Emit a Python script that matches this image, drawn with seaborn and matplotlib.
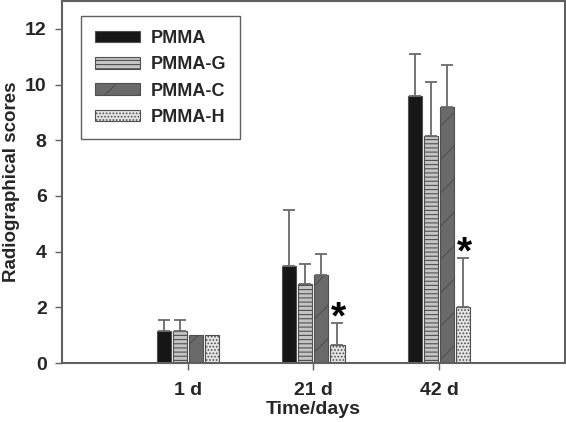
import numpy as np
import pandas as pd
import matplotlib
matplotlib.use('Agg')
import matplotlib.pyplot as plt
import seaborn as sns

# Data
times = ['1 d', '21 d', '42 d']
groups = ['PMMA', 'PMMA-G', 'PMMA-C', 'PMMA-H']
pmma = [1.15, 3.5, 9.6]
pmma_g = [1.15, 2.82, 8.15]
pmma_c = [1.0, 3.15, 9.2]
pmma_h = [1.0, 0.65, 2.0]
sd_pmma = [0.4, 2.0, 1.5]
sd_pmma_g = [0.4, 0.75, 1.95]
sd_pmma_c = [0.0, 0.75, 1.5]
sd_pmma_h = [0.0, 0.8, 1.78]
signif = [False, True, True]  # star above PMMA-H

means = [pmma, pmma_g, pmma_c, pmma_h]
sds = [sd_pmma, sd_pmma_g, sd_pmma_c, sd_pmma_h]

df = pd.DataFrame({
    'time': np.tile(times, len(groups)),
    'group': np.repeat(groups, len(times)),
    'score': np.concatenate(means),
})

sns.set_style('ticks')
plt.rcParams['font.family'] = ['Liberation Sans', 'DejaVu Sans']
plt.rcParams['font.weight'] = 'bold'
plt.rcParams['hatch.linewidth'] = 0.8
plt.rcParams['hatch.color'] = '#3a3a3a'

fig = plt.figure(figsize=(5.66, 4.22), dpi=100)
ax = fig.add_axes([0.1095, 0.1398, 0.8885, 0.8578])

edge = '#505050'
fills = ['#161616', '#c4c4c4', '#6a6a6a', '#e4e4e4']
hatches = [None, '----', '/', '.....']

sns.barplot(data=df, x='time', y='score', hue='group', order=times, hue_order=groups,
            palette=fills, width=0.51, gap=0.12, edgecolor=edge, linewidth=0.8,
            saturation=1, errorbar=None, legend=False, ax=ax)

bar_conts = list(ax.containers)
for i, cont in enumerate(bar_conts):
    for j, bar in enumerate(cont):
        bar.set_hatch(hatches[i])
        bar.set_edgecolor(edge)
        xc = bar.get_x() + bar.get_width() / 2
        h = bar.get_height()
        if sds[i][j] > 0:
            ax.errorbar(xc, h, yerr=[[0], [sds[i][j]]], fmt='none', ecolor='#6a6a6a',
                        elinewidth=1.3, capsize=4, capthick=1.3, zorder=1)
        if i == 3 and signif[j]:
            ax.text(xc + 0.01, h + sds[i][j] - 0.2, '*', ha='center', va='baseline',
                    fontsize=28, fontweight='bold', color='black')

ax.set_xlim(-1, 3)
ax.set_ylim(0, 13)
ax.set_yticks([0, 2, 4, 6, 8, 10, 12])
ax.set_xlabel('Time/days', fontsize=14, fontweight='bold', labelpad=1)
ax.set_ylabel('Radiographical scores', fontsize=13.5, fontweight='bold', labelpad=4)
ax.tick_params(axis='both', labelsize=14, color='#606060', length=5, width=1, direction='out')
ax.tick_params(axis='x', pad=9)
ax.tick_params(axis='y', pad=6)
for lab in ax.get_xticklabels() + ax.get_yticklabels():
    lab.set_fontweight('bold')
for sp in ax.spines.values():
    sp.set_visible(True)
    sp.set_color('#606060')
    sp.set_linewidth(1.5)

leg = ax.legend(handles=bar_conts, labels=groups, loc='upper left',
                bbox_to_anchor=(0.038, 0.958), borderaxespad=0, fancybox=False,
                framealpha=1, edgecolor='#606060', prop={'size': 13, 'weight': 'bold'},
                handlelength=2.5, handleheight=0.6, labelspacing=0.52,
                borderpad=0.75, handletextpad=0.6)
leg.get_frame().set_linewidth(1.0)

fig.savefig('out.png', dpi=100)
